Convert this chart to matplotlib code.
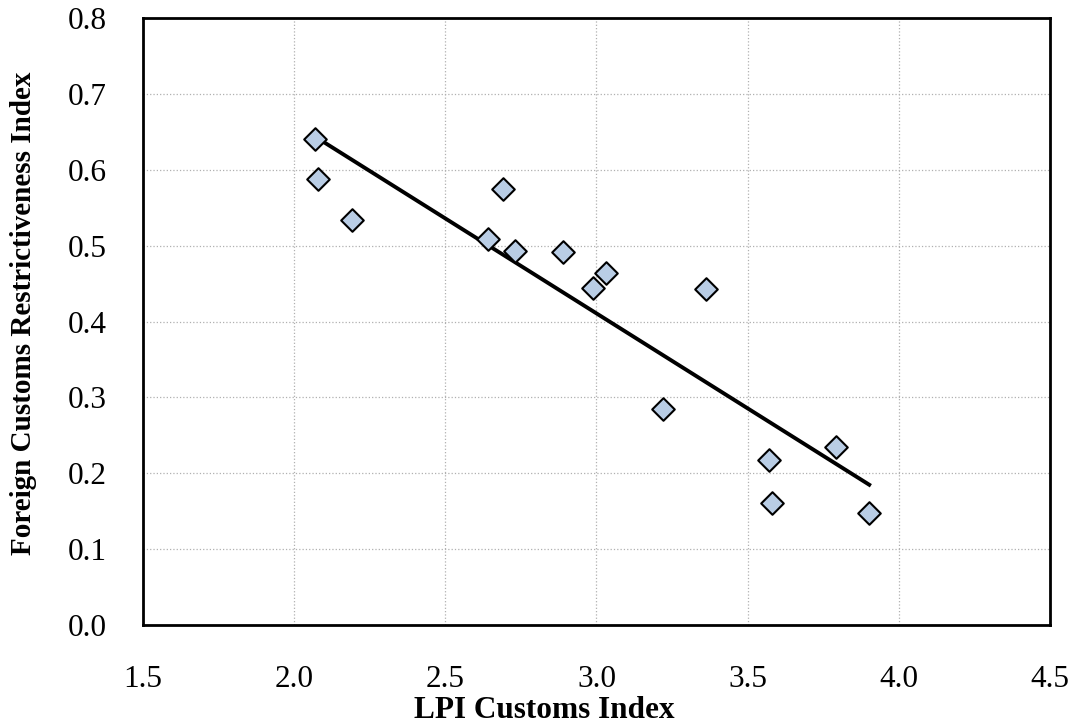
import numpy as np
import matplotlib.pyplot as plt

# LPI customs index vs foreign customs restrictiveness index
lpi_customs = [2.069, 2.080, 2.190, 2.642, 2.690, 2.731, 2.890, 2.990, 3.031,
               3.221, 3.361, 3.571, 3.580, 3.791, 3.902]
restrictiveness = [0.640, 0.588, 0.534, 0.509, 0.575, 0.493, 0.492, 0.444, 0.464,
                   0.285, 0.443, 0.217, 0.161, 0.234, 0.147]

x_ticks = [1.5, 2.0, 2.5, 3.0, 3.5, 4.0, 4.5]
y_ticks = [0.0, 0.1, 0.2, 0.3, 0.4, 0.5, 0.6, 0.7, 0.8]

plt.rcParams['font.family'] = ['Liberation Serif', 'DejaVu Serif']

fig = plt.figure(figsize=(10.71, 7.24), dpi=100)
ax = fig.add_axes([0.1335, 0.1367, 0.8469, 0.8384])

x = np.array(lpi_customs)
y = np.array(restrictiveness)

# linear trendline over the data range
slope, intercept = np.polyfit(x, y, 1)
xt = np.array([x.min(), x.max()])
ax.plot(xt, slope * xt + intercept, color='black', lw=2.8, zorder=2)

ax.scatter(x, y, marker='D', s=11.5 ** 2, facecolor='#B9CDE5',
           edgecolor='black', linewidths=1.5, zorder=3)

ax.set_xlim(1.5, 4.5)
ax.set_ylim(0.0, 0.8)
ax.set_xticks(x_ticks)
ax.set_yticks(y_ticks)
ax.set_xticklabels([f'{v:.1f}' for v in x_ticks])
ax.set_yticklabels([f'{v:.1f}' for v in y_ticks])
ax.tick_params(length=0, labelsize=22.5)
ax.tick_params(axis='x', pad=29)
ax.tick_params(axis='y', pad=26)

ax.grid(True, color='#b0b0b0', linestyle=':', linewidth=0.9)
ax.set_axisbelow(True)
for s in ax.spines.values():
    s.set_linewidth(2)

ax.set_xlabel('LPI Customs Index', fontsize=22.5, fontweight='bold')
ax.set_ylabel('Foreign Customs Restrictiveness Index', fontsize=21,
              fontweight='bold')
ax.xaxis.set_label_coords(0.442, -0.117)
ax.yaxis.set_label_coords(-0.117, 0.513)

fig.savefig('out.png', dpi=100)
